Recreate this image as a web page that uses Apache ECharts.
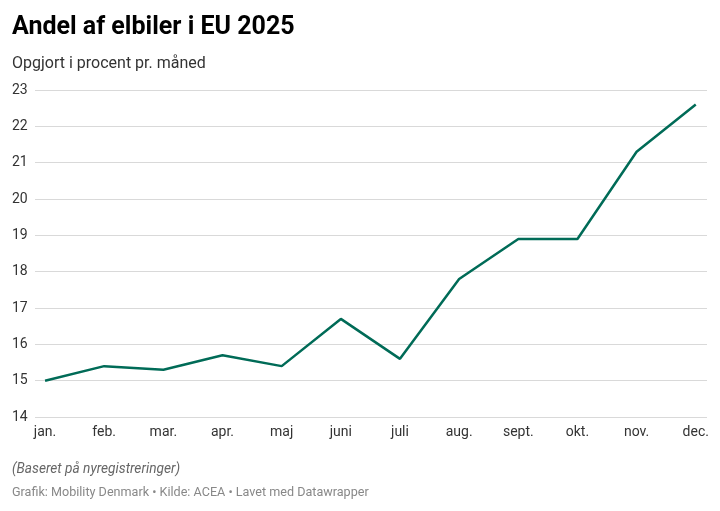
<!DOCTYPE html>
<html>
<head>
<meta charset="utf-8">
<script src="https://cdn.jsdelivr.net/npm/echarts@6/dist/echarts.min.js"></script>
<style>
html,body{margin:0;padding:0;background:#fff;}
#c{width:720px;height:511px;}
</style>
</head>
<body>
<div id="c"></div>
<script>
const months = ['jan.','feb.','mar.','apr.','maj','juni','juli','aug.','sept.','okt.','nov.','dec.'];
const share = [15.0,15.4,15.3,15.7,15.4,16.7,15.6,17.8,18.9,18.9,21.3,22.6];
const yTicks = [14,15,16,17,18,19,20,21,22,23];

const chart = echarts.init(document.getElementById('c'));
const F = 'Roboto, sans-serif';
chart.setOption({
  animation:false,
  backgroundColor:'#fff',
  title:[
    {text:'Andel af elbiler i EU 2025',left:12,top:15,padding:0,textStyle:{fontFamily:F,fontWeight:'bold',fontSize:25,color:'#000'}},
    {text:'Opgjort i procent pr. måned',left:12,top:56,padding:0,textStyle:{fontFamily:F,fontWeight:'normal',fontSize:16,color:'#333'}},
    {text:'(Baseret på nyregistreringer)',left:12,top:463,padding:0,textStyle:{fontFamily:F,fontWeight:'normal',fontStyle:'italic',fontSize:13.7,color:'#666'}},
    {text:'Grafik: Mobility Denmark • Kilde: ACEA • Lavet med Datawrapper',left:12,top:486,padding:0,textStyle:{fontFamily:F,fontWeight:'normal',fontSize:12.6,color:'#888'}}
  ],
  grid:{left:35,right:13,top:90,bottom:94},
  xAxis:{
    type:'value',min:-0.17,max:11.19,
    axisLine:{show:false},axisTick:{show:false},splitLine:{show:false},
    axisLabel:{customValues:months.map((m,i)=>i),formatter:v=>months[Math.round(v)],
      fontFamily:F,fontSize:14,color:'#333',margin:8}
  },
  yAxis:{
    type:'value',min:14,max:23,interval:1,
    axisLine:{show:false},axisTick:{show:false},
    splitLine:{lineStyle:{color:'#d9d9d9',width:1}},
    axisLabel:{customValues:yTicks,align:'left',margin:23,fontFamily:F,fontSize:14,color:'#333'}
  },
  series:[{
    type:'line',data:share.map((v,i)=>[i,v]),symbol:'none',
    lineStyle:{color:'#006b57',width:2.5},
    itemStyle:{color:'#006b57'}
  }]
});
</script>
</body>
</html>
